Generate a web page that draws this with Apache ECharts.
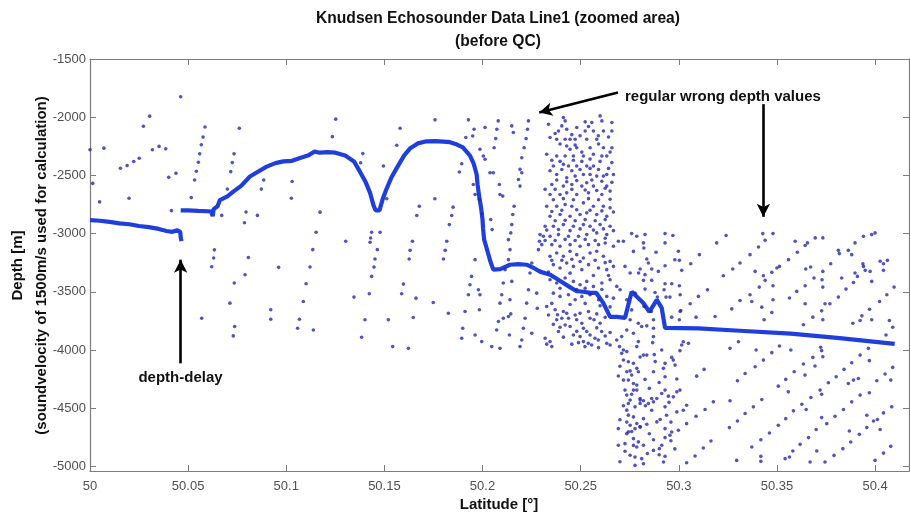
<!DOCTYPE html>
<html>
<head>
<meta charset="utf-8">
<script src="https://cdn.jsdelivr.net/npm/echarts@6/dist/echarts.min.js"></script>
<style>html,body{margin:0;padding:0;background:#fff}#c{width:910px;height:517px}</style>
</head>
<body>
<div id="c"></div>
<script>
// ---------- axis ticks ----------
var xTicks = [50, 50.05, 50.1, 50.15, 50.2, 50.25, 50.3, 50.35, 50.4];
var yTicks = [-5000, -4500, -4000, -3500, -3000, -2500, -2000, -1500];

// ---------- seafloor (dense echo line) ----------
var floorA = [[50.0,-2885],[50.005,-2890],[50.01,-2900],[50.015,-2912],[50.02,-2920],[50.025,-2935],[50.03,-2945],[50.035,-2960],[50.039,-2978],[50.042,-2985],[50.0445,-2972],[50.046,-2985],[50.0462,-3030],[50.0466,-3065]];
var floorB = [[50.0462,-2800],[50.05,-2800],[50.055,-2805],[50.06,-2808],[50.0618,-2812],[50.0625,-2850],[50.063,-2790],[50.065,-2765],[50.0662,-2712],[50.07,-2680],[50.073,-2640],[50.077,-2590],[50.0815,-2510],[50.086,-2465],[50.09,-2425],[50.0945,-2395],[50.0985,-2380],[50.103,-2375],[50.107,-2350],[50.111,-2330],[50.1145,-2295],[50.117,-2305],[50.121,-2300],[50.125,-2305],[50.13,-2330],[50.1345,-2380],[50.1376,-2470],[50.1405,-2560],[50.1427,-2650],[50.1445,-2760],[50.1455,-2800],[50.1475,-2800],[50.1492,-2700],[50.151,-2620],[50.1535,-2520],[50.1562,-2440],[50.16,-2330],[50.163,-2270],[50.167,-2225],[50.1715,-2207],[50.176,-2205],[50.18,-2210],[50.1834,-2215],[50.187,-2235],[50.19,-2260],[50.1936,-2330],[50.1955,-2400],[50.197,-2490],[50.1975,-2580],[50.1982,-2670],[50.1992,-2770],[50.2,-2880],[50.2003,-2960],[50.2008,-3050],[50.2025,-3150],[50.204,-3240],[50.2055,-3310],[50.209,-3305],[50.214,-3268],[50.218,-3262],[50.2227,-3268],[50.2265,-3300],[50.2293,-3327],[50.2344,-3353],[50.238,-3390],[50.241,-3422],[50.2445,-3460],[50.248,-3495],[50.2515,-3500],[50.2548,-3509],[50.258,-3510],[50.2615,-3595],[50.265,-3716],[50.2685,-3716],[50.2726,-3724],[50.276,-3500],[50.2818,-3595],[50.285,-3672],[50.2888,-3569],[50.2913,-3638],[50.293,-3810],[50.31,-3815],[50.331,-3835],[50.357,-3860],[50.382,-3898],[50.399,-3928],[50.41,-3948]];

// ---------- wrong depth values (scattered echoes) ----------
var noiseLeft = [[50.0,-2280],[50.0071,-2266],[50.0014,-2569],[50.0049,-2728],[50.0462,-1824],[50.0304,-1991],[50.0272,-2078],[50.0155,-2439],[50.0189,-2416],[50.0223,-2381],[50.0251,-2353],[50.0318,-2280],[50.0352,-2251],[50.0386,-2272],[50.0401,-2517],[50.0438,-2482],[50.0199,-2696],[50.0415,-2803],
[50.0586,-2084],[50.0576,-2171],[50.0567,-2237],[50.0559,-2315],[50.0552,-2387],[50.0542,-2465],[50.0533,-2540],[50.0516,-2691],
[50.0761,-2095],[50.0734,-2315],[50.0725,-2390],[50.0717,-2468],[50.07,-2618],[50.0671,-2844],[50.0787,-2907],[50.0795,-2815],[50.0853,-2844],[50.0873,-2618],[50.0885,-2540],[50.103,-2552],[50.1026,-2696],
[50.0634,-3140],[50.063,-3210],[50.062,-3285],[50.0807,-3205],[50.0961,-3290],
[50.0569,-3727],[50.0735,-3425],[50.0737,-3799],[50.073,-3879],[50.0713,-3598],[50.079,-3354],[50.0921,-3655],[50.0921,-3736],
[50.1058,-3813],[50.1067,-3736],[50.1087,-3583],[50.1101,-3431],[50.1121,-3287],[50.1135,-3138],[50.1138,-3828],[50.1152,-2989],[50.1172,-2816]];

var noiseMid = [[50.1252,-2017],[50.1235,-2167],[50.158,-2095],[50.1563,-2241],[50.139,-2313],[50.1379,-2391],[50.1495,-2420],[50.1758,-2023],[50.1928,-2023],[50.1915,-2175],[50.1894,-2400],[50.1882,-2471],[50.1757,-2701],[50.1678,-2765],[50.1665,-2845],[50.185,-2773],[50.1843,-2845],[50.1831,-2923],
[50.1303,-3066],[50.1435,-2989],[50.1478,-2989],[50.143,-3038],[50.1427,-3075],[50.1464,-3138],[50.1452,-3219],[50.1447,-3288],[50.1512,-2701],[50.1643,-3066],[50.1631,-3144],[50.1626,-3219],[50.1818,-3066],[50.181,-3144],[50.1801,-3219],
[50.1345,-3546],[50.1384,-3891],[50.1401,-3741],[50.1423,-3517],[50.1435,-3368],[50.152,-3741],[50.1542,-3971],[50.1588,-3517],[50.1597,-3434],[50.1622,-3986],[50.1647,-3721],[50.1661,-3555],[50.1749,-3592],[50.1826,-3684],
[50.1953,-2578],[50.1962,-2664],[50.1984,-2707],[50.1998,-2830]];

var noiseStripes = [[50.1957,-2104],[50.195,-2161],[50.2013,-2089],[50.208,-2032],[50.2073,-2104],[50.2067,-2184],[50.2059,-2262],[50.2149,-2075],[50.2157,-2132],[50.2234,-2032],[50.2229,-2104],[50.2222,-2184],[50.2212,-2262],[50.22,-2348],[50.2191,-2448],[50.2183,-2535],[50.1987,-2276],[50.2004,-2333],[50.2013,-2362],[50.2038,-2477],[50.2055,-2477],[50.2086,-2578],[50.2089,-2664],[50.2103,-2678],[50.2042,-2880],[50.2049,-2966],[50.2132,-3052],[50.214,-3138],[50.2161,-2765],[50.2154,-2836],[50.2149,-2923],[50.2144,-2994],[50.2191,-2592],[50.22,-2477],[50.2285,-3138],[50.229,-3066],[50.231,-3023],
[50.1962,-3224],[50.1944,-3368],[50.1936,-3440],[50.1928,-3526],[50.1911,-3670],[50.1899,-3813],[50.1894,-3900],[50.1979,-3483],[50.1987,-3526],[50.1984,-3655],[50.1996,-3928],[50.1962,-3871],[50.2047,-3971],[50.2089,-3986],[50.2072,-3828],[50.2081,-3756],[50.2089,-3598],[50.2098,-3526],[50.2106,-3425],[50.2115,-3310],[50.2132,-3224],[50.2149,-3411],[50.214,-3569],[50.2132,-3713],[50.2137,-3871],[50.2191,-3971],[50.22,-3914],[50.2208,-3813],[50.2217,-3727],[50.2225,-3598],[50.2234,-3483],[50.2242,-3339],[50.2251,-3253],[50.2276,-3512],[50.2279,-3641],[50.2106,-3727],[50.2144,-3690],[50.2251,-3856]];

var noiseDense = [[50.2412,-2003],[50.2421,-2032],[50.2404,-2075],[50.2429,-2104],[50.2387,-2118],[50.248,-2089],[50.2523,-2040],[50.2557,-2046],[50.2565,-2118],[50.2599,-1989],[50.2608,-2032],[50.2659,-2046],[50.2659,-2118],[50.2616,-2118],[50.2523,-2118],
[50.2344,-2175],[50.2378,-2190],[50.2421,-2190],[50.2446,-2190],[50.2472,-2190],[50.2531,-2190],[50.2582,-2190],
[50.2429,-2247],[50.2446,-2276],[50.248,-2262],[50.2548,-2262],[50.2616,-2262],[50.2659,-2262],
[50.2327,-2319],[50.2378,-2333],[50.2421,-2333],[50.2463,-2333],[50.2514,-2333],[50.2565,-2319],[50.2608,-2333],[50.2633,-2333],
[50.2361,-2420],[50.2412,-2405],[50.2438,-2420],[50.248,-2420],[50.2531,-2420],[50.2565,-2420],
[50.2633,-2492],[50.2667,-2492],[50.2378,-2492],[50.2429,-2520],[50.2472,-2506],[50.2514,-2492],[50.2548,-2492],[50.2582,-2506],[50.2616,-2506],
[50.2353,-2578],[50.2412,-2592],[50.2455,-2578],[50.2506,-2592],[50.2531,-2563],[50.2565,-2592],[50.2633,-2592],
[50.2344,-2664],[50.2395,-2664],[50.2429,-2650],[50.248,-2664],[50.254,-2650],[50.2608,-2664],[50.265,-2635],
[50.2327,-2765],[50.2378,-2765],[50.2421,-2750],[50.2455,-2765],[50.2514,-2736],[50.2565,-2765],[50.2616,-2765],[50.265,-2779],
[50.2344,-2851],[50.2395,-2836],[50.2446,-2851],[50.2497,-2836],[50.2531,-2822],[50.2582,-2836],[50.2633,-2851],
[50.2319,-2937],[50.2361,-2937],[50.2412,-2923],[50.2463,-2937],[50.2514,-2923],[50.2548,-2937],[50.2599,-2923],[50.265,-2937],
[50.2293,-3009],[50.2344,-3023],[50.2387,-3009],[50.2438,-3023],[50.2489,-3023],[50.2531,-3009],[50.2582,-2994],[50.2633,-3009],
[50.2302,-3095],[50.2353,-3095],[50.2395,-3109],[50.2446,-3095],[50.2497,-3109],[50.254,-3095],[50.2591,-3095],[50.2625,-3081],[50.2667,-3109],
[50.2336,-2060],[50.237,-2140],[50.2455,-2150],[50.2497,-2160],[50.254,-2080],[50.259,-2160],[50.2642,-2170],[50.2395,-2230],[50.2472,-2240],[50.2506,-2300],[50.2591,-2230],[50.265,-2300],[50.2353,-2370],[50.2395,-2380],[50.2463,-2370],[50.2506,-2380],[50.2548,-2360],[50.2599,-2380],[50.2659,-2390],[50.2344,-2460],[50.2404,-2450],[50.2455,-2460],[50.2497,-2450],[50.2548,-2440],[50.2591,-2450],[50.2642,-2440],[50.2378,-2540],[50.2429,-2555],[50.248,-2545],[50.2557,-2540],[50.2608,-2550],[50.2659,-2560],[50.2319,-2620],[50.237,-2620],[50.2455,-2620],[50.2523,-2625],[50.2582,-2630],[50.2625,-2610],[50.2361,-2710],[50.2412,-2700],[50.2463,-2710],[50.254,-2700],[50.2591,-2710],[50.265,-2705],[50.2353,-2810],[50.2404,-2800],[50.248,-2795],[50.2548,-2800],[50.2608,-2805],[50.2667,-2815],[50.237,-2890],[50.2421,-2885],[50.2472,-2890],[50.2523,-2880],[50.2574,-2890],[50.2625,-2880],[50.2327,-2970],[50.2387,-2965],[50.2446,-2975],[50.2497,-2960],[50.2565,-2970],[50.2616,-2960],[50.2667,-2975],[50.2319,-3060],[50.237,-3060],[50.2421,-3050],[50.2472,-3060],[50.2523,-3050],[50.2574,-3060],[50.2625,-3040],
[50.2344,-3195],[50.2378,-3167],[50.2412,-3195],[50.2446,-3152],[50.248,-3181],[50.2514,-3210],[50.2548,-3167],[50.2582,-3152],[50.2616,-3195],[50.265,-3239],[50.2361,-3267],[50.2395,-3296],[50.2429,-3253],[50.2463,-3282],[50.2506,-3310],[50.254,-3267],[50.2591,-3296],[50.2633,-3310],[50.2667,-3282],[50.2344,-3397],[50.2378,-3425],[50.2421,-3382],[50.2463,-3411],[50.2497,-3440],[50.2531,-3411],[50.2565,-3454],[50.2608,-3425],[50.265,-3397],[50.2684,-3454],[50.2361,-3512],[50.2395,-3540],[50.2438,-3526],[50.2472,-3569],[50.2506,-3540],[50.2548,-3526],[50.2591,-3569],[50.2633,-3540],[50.2667,-3555],
[50.2353,-3230],[50.2404,-3230],[50.2455,-3220],[50.2497,-3240],[50.2574,-3230],[50.2625,-3250],[50.2336,-3330],[50.2446,-3340],[50.2565,-3360],[50.2642,-3360],[50.2395,-3470],[50.248,-3480],[50.2523,-3470],[50.2608,-3480],[50.2353,-3600],[50.2446,-3610],[50.2523,-3600],[50.2599,-3620],[50.265,-3630],[50.2336,-3700],[50.2472,-3700],[50.2582,-3690],[50.2625,-3720],[50.2361,-3780],[50.248,-3840],[50.2582,-3810],[50.2625,-3880],[50.2412,-3890],[50.2455,-3950],[50.2591,-3980],[50.2327,-3950],[50.265,-3850],
[50.2327,-3626],[50.2319,-3899],[50.2344,-3928],[50.2353,-3971],[50.237,-3655],[50.2382,-3698],[50.2387,-3842],[50.2395,-3805],[50.2412,-3669],[50.2429,-3684],[50.2438,-3727],[50.2378,-3741],[50.2404,-3727],[50.2421,-3785],[50.2446,-3799],[50.2463,-3871],[50.2497,-3885],[50.2489,-3937],[50.248,-3741],[50.2506,-3770],[50.2514,-3813],[50.2531,-3842],[50.2548,-3871],[50.2573,-3899],[50.259,-3914],[50.2556,-3957],[50.2522,-3971],[50.2539,-3943],[50.2514,-3928],[50.2497,-3684],[50.254,-3669],[50.2548,-3727],[50.2568,-3741],[50.2599,-3770],[50.2607,-3842],[50.2633,-3943],[50.265,-3957],[50.2684,-3914],[50.2698,-3971],[50.2718,-4000],
[50.2769,-3856],[50.2794,-3928],[50.2735,-3828],[50.2786,-3971],[50.2709,-3885],[50.2752,-3741],[50.2794,-3770],
[50.2692,-3066],[50.2718,-3066],[50.276,-3000],[50.2786,-3023],[50.2769,-3153],[50.2726,-3282],[50.2752,-3339],[50.2795,-3339],[50.2701,-3483],[50.2735,-3569],[50.2778,-3512],[50.276,-3656]];

var noiseLowerColumn = [[50.2709,-4029],[50.2735,-4014],[50.2718,-4086],[50.2743,-4101],[50.2769,-4115],[50.2786,-4158],[50.2794,-4187],[50.276,-4216],[50.2735,-4187],[50.2692,-4224],[50.2718,-4259],[50.2743,-4259],[50.2769,-4288],[50.2786,-4302],[50.2726,-4345],[50.2735,-4388],[50.2769,-4345],[50.2786,-4345],[50.2803,-4431],[50.2752,-4431],[50.2743,-4460],[50.2777,-4489],[50.2735,-4517],[50.2803,-4460],[50.2769,-4575],[50.2786,-4632],[50.2752,-4647],[50.2692,-4676],[50.2743,-4704],[50.2777,-4676],[50.2803,-4661],[50.2735,-4719],[50.2769,-4762],[50.2794,-4790],[50.2786,-4834],[50.2692,-4819],[50.2726,-4805],[50.2752,-4905],[50.2777,-4920],[50.2777,-4992],
[50.27,-4140],[50.276,-4380],[50.2718,-4480],[50.2743,-4560],[50.27,-4600],[50.276,-4700],[50.2726,-4870],[50.27,-4960],[50.2803,-4060],[50.2752,-4180],[50.2735,-4620],[50.2769,-4820],[50.288,-4100],[50.29,-4280],[50.285,-4330],[50.295,-4450],[50.296,-4620],[50.285,-4720],[50.29,-4900],[50.298,-4850],[50.284,-4890],[50.299,-4250],[50.296,-4780],[50.283,-4480],
[50.2871,-3885],[50.2867,-3937],[50.282,-4044],[50.2837,-4044],[50.2875,-4040],[50.2913,-4000],[50.2964,-4064],[50.2972,-4087],[50.2981,-4130],[50.293,-4115],[50.2922,-4158],[50.293,-4230],[50.2871,-4187],[50.2828,-4253],[50.3006,-4006],[50.3015,-3957],[50.3023,-3929],[50.3049,-3943],[50.299,-4360],[50.3006,-4345],[50.2972,-4403],[50.2947,-4397],[50.2913,-4374],[50.293,-4345],[50.2862,-4417],[50.2871,-4446],[50.2888,-4417],[50.2845,-4460],[50.282,-4437],[50.2803,-4417],[50.2862,-4518],[50.293,-4489],[50.2938,-4561],[50.299,-4532],[50.3023,-4518],[50.304,-4475],[50.282,-4590],[50.2837,-4638],[50.2803,-4661],[50.2888,-4618],[50.2905,-4598],[50.293,-4676],[50.2955,-4733],[50.2964,-4705],[50.282,-4819],[50.2871,-4771],[50.2913,-4819],[50.2901,-4848],[50.2871,-4863],[50.293,-4753],[50.2922,-4963],[50.293,-4914],[50.2811,-4934],[50.282,-4978]];

var noiseRight = [[50.2828,-3009],[50.293,-3000],[50.297,-3017],[50.282,-3080],[50.2822,-3124],[50.2884,-3161],[50.293,-3080],[50.2998,-3152],[50.3003,-3230],[50.298,-3225],[50.3015,-3316],[50.2837,-3218],[50.2845,-3253],[50.2862,-3304],[50.2896,-3325],[50.293,-3276],[50.2803,-3304],[50.2828,-3353],[50.2862,-3402],[50.282,-3402],[50.293,-3431],[50.2964,-3431],[50.2925,-3483],[50.2935,-3546],[50.3003,-3448],[50.3007,-3526],[50.2955,-3546],[50.2879,-3506],[50.2891,-3546],[50.2828,-3477],[50.2823,-3626],[50.286,-3670],[50.2871,-3741],[50.2964,-3718],[50.3007,-3670],[50.2811,-3799],[50.2837,-3793],[50.2871,-3813],
[50.3193,-3080],[50.3241,-3017],[50.3105,-3181],[50.3061,-3259],[50.3227,-3362],[50.3146,-3483],[50.31,-3540],[50.3058,-3603],[50.301,-3661],[50.3088,-3718],[50.327,-3647],[50.3312,-3575],[50.3363,-3526],[50.3372,-3583],[50.3275,-3304],[50.3312,-3253],[50.3363,-3181],[50.3406,-3115],[50.3428,-3000],[50.344,-3057],[50.348,-3000],[50.3389,-3325],[50.3431,-3362],[50.344,-3402],[50.341,-3460],[50.3423,-3632],[50.3435,-3741],[50.3474,-3333],[50.35,-3296],[50.3513,-3282],[50.348,-3448],[50.348,-3569],[50.3474,-3678],[50.3559,-3224],[50.3564,-3554],[50.3601,-3497],[50.3593,-3066],[50.3604,-3161],[50.3644,-3103],[50.3656,-3080],[50.3695,-3037],[50.3734,-3037],[50.3647,-3304],[50.3672,-3287],[50.3644,-3448],[50.3689,-3382],[50.3734,-3325],[50.3734,-3460],[50.373,-3397],[50.3644,-3603],[50.3683,-3718],[50.3734,-3741],[50.3728,-3664],[50.3745,-3603],[50.377,-3603],[50.3774,-3259],[50.3813,-3144],[50.3818,-3172],[50.383,-3382],[50.3813,-3546],[50.3852,-3477],[50.3864,-3144],[50.3881,-3181],[50.3898,-3080],[50.389,-3420],[50.3898,-3339],[50.391,-3368],[50.3938,-3259],[50.3941,-3282],[50.395,-3316],[50.3941,-3023],[50.3983,-3009],[50.4,-2994],[50.3975,-3325],[50.3983,-3411],[50.4026,-3238],[50.4043,-3259],[50.4063,-3230],[50.4043,-3316],[50.4097,-3460],[50.406,-3526],[50.4023,-3583],[50.3972,-3650],[50.3933,-3707],[50.3924,-3747],[50.3887,-3770],[50.3983,-3741],[50.4073,-3747],[50.409,-3805],[50.3635,-3784],[50.3185,-3713],[50.3003,-3741],
[50.3261,-3986],[50.3304,-3929],[50.3394,-4000],[50.3431,-4087],[50.3474,-4023],[50.3513,-3966],[50.3571,-4000],[50.3507,-4311],[50.3545,-4253],[50.3588,-4187],[50.3635,-4121],[50.3643,-4216],[50.3683,-4064],[50.3694,-4138],[50.3723,-3977],[50.3728,-4006],[50.3734,-4058],[50.3558,-4360],[50.372,-4345],[50.3728,-4380],[50.3762,-4282],[50.3802,-4230],[50.3842,-4167],[50.3881,-4110],[50.3924,-4044],[50.3966,-3986],[50.3971,-4092],[50.3915,-4245],[50.389,-4259],[50.3864,-4288],[50.3971,-4368],[50.4009,-4265],[50.4051,-4207],[50.409,-4150],[50.408,-4259],[50.4056,-3871],[50.3881,-4446],[50.3924,-4388],[50.3839,-4512],[50.3796,-4569],[50.3754,-4633],[50.37,-4684],[50.3661,-4753],[50.3618,-4811],[50.3581,-4868],[50.3542,-4934],[50.3564,-4920],[50.3673,-4409],[50.3627,-4466],[50.3649,-4512],[50.3584,-4523],[50.3545,-4590],[50.3507,-4647],[50.3462,-4713],[50.3418,-4771],[50.3372,-4834],[50.3418,-4914],[50.3418,-4957],[50.3295,-4949],[50.3258,-4667],[50.3299,-4610],[50.3338,-4546],[50.338,-4489],[50.3423,-4426],[50.3299,-4265],[50.3338,-4202],[50.3389,-4144],[50.3261,-4437],[50.3176,-4446],[50.3134,-4512],[50.3088,-4569],[50.304,-4633],[50.2998,-4690],[50.3129,-4167],[50.3091,-4225],[50.3164,-4782],[50.3125,-4843],[50.3083,-4911],[50.304,-4969],[50.3728,-4581],[50.3703,-4868],[50.3669,-4963],[50.3745,-4963],[50.3791,-4906],[50.3836,-4848],[50.3876,-4791],[50.392,-4725],[50.3958,-4667],[50.3992,-4610],[50.4026,-4684],[50.4012,-4598],[50.4043,-4541],[50.4085,-4489],[50.3958,-4561],[50.4,-4949],[50.4043,-4886],[50.408,-4828],[50.3869,-4696]];

// ---------- annotations (arrow start lat/depth, arrow end lat/depth) ----------
var arrowLines = [[50.2690,-1787,50.2289,-1960],[50.3431,-1888,50.3431,-2856],[50.0462,-4115,50.0462,-3224]];
var annotationTexts = ['regular wrong depth values', 'depth-delay'];

var chart = echarts.init(document.getElementById('c'), null, {renderer:'canvas'});
var FONT = 'Liberation Sans, Arial, sans-serif';
var axisCol = '#7c7c7c';
var dots = [].concat(noiseLeft, noiseMid, noiseStripes, noiseDense, noiseLowerColumn, noiseRight);
var floorStyle = {color:'#1f3fdc', width:4.2};
function floorSeries(d){ return {type:'line', data:d, showSymbol:false, symbol:'none', lineStyle:floorStyle, z:2, animation:false, silent:true}; }
function plain(v){ return String(v); }

chart.setOption({
  animation:false,
  backgroundColor:'#ffffff',
  title:{
    text:'Knudsen Echosounder Data Line1 (zoomed area)\n(before QC)',
    left:498, top:6.5, textAlign:'center', padding:0,
    textStyle:{fontFamily:FONT, fontWeight:'bold', fontSize:15.6, color:'#111', lineHeight:23.4}
  },
  grid:{left:90, right:1, top:59, bottom:46, containLabel:false},
  xAxis:[{
    type:'value', min:50, max:50.4173, position:'bottom',
    axisLine:{show:true, onZero:false, lineStyle:{color:axisCol, width:1.2}},
    axisTick:{show:true, inside:true, length:6, customValues:xTicks, lineStyle:{color:axisCol}},
    axisLabel:{show:true, customValues:xTicks, formatter:plain, color:'#505050', fontFamily:FONT, fontSize:13, margin:9},
    splitLine:{show:false}
  },{
    type:'value', min:50, max:50.4173, position:'top',
    axisLine:{show:true, onZero:false, lineStyle:{color:axisCol, width:1.2}},
    axisTick:{show:true, inside:true, length:6, customValues:xTicks, lineStyle:{color:axisCol}},
    axisLabel:{show:false}, splitLine:{show:false}
  }],
  yAxis:[{
    type:'value', min:-5040, max:-1500, position:'left',
    axisLine:{show:true, onZero:false, lineStyle:{color:axisCol, width:1.2}},
    axisTick:{show:true, inside:true, length:6, customValues:yTicks, lineStyle:{color:axisCol}},
    axisLabel:{show:true, customValues:yTicks, formatter:plain, color:'#505050', fontFamily:FONT, fontSize:13, margin:4},
    splitLine:{show:false}
  },{
    type:'value', min:-5040, max:-1500, position:'right',
    axisLine:{show:true, onZero:false, lineStyle:{color:axisCol, width:1.2}},
    axisTick:{show:true, inside:true, length:6, customValues:yTicks, lineStyle:{color:axisCol}},
    axisLabel:{show:false}, splitLine:{show:false}
  }],
  graphic:[
    {type:'text', x:17.5, y:265.5, rotation:Math.PI/2, style:{text:'Depth [m]', font:'bold 15px '+FONT, fill:'#111', textAlign:'center', textVerticalAlign:'middle'}},
    {type:'text', x:42, y:265.5, rotation:Math.PI/2, style:{text:'(soundvelocity of 1500m/s used for calculation)', font:'bold 15px '+FONT, fill:'#111', textAlign:'center', textVerticalAlign:'middle'}},
    {type:'text', x:499, y:505, style:{text:'Latitude [°]', font:'bold 15px '+FONT, fill:'#111', textAlign:'center', textVerticalAlign:'middle'}},
    {type:'text', x:625, y:97, style:{text:annotationTexts[0], font:'bold 15px '+FONT, fill:'#111', textAlign:'left', textVerticalAlign:'middle'}},
    {type:'text', x:180.5, y:378, style:{text:annotationTexts[1], font:'bold 15px '+FONT, fill:'#111', textAlign:'center', textVerticalAlign:'middle'}}
  ],
  series:[
    floorSeries(floorA), floorSeries(floorB),
    {
      type:'scatter', data:dots, symbol:'circle', symbolSize:3.6,
      itemStyle:{color:'#2629a8'}, z:3, silent:true,
      markLine:{
        silent:true, animation:false, symbol:['none','arrow'], symbolSize:[10,13],
        lineStyle:{color:'#000', width:2.6, type:'solid'}, label:{show:false},
        data: arrowLines.map(function(a){ return [{coord:[a[0],a[1]]},{coord:[a[2],a[3]]}]; })
      }
    }
  ]
});
</script>
</body>
</html>
